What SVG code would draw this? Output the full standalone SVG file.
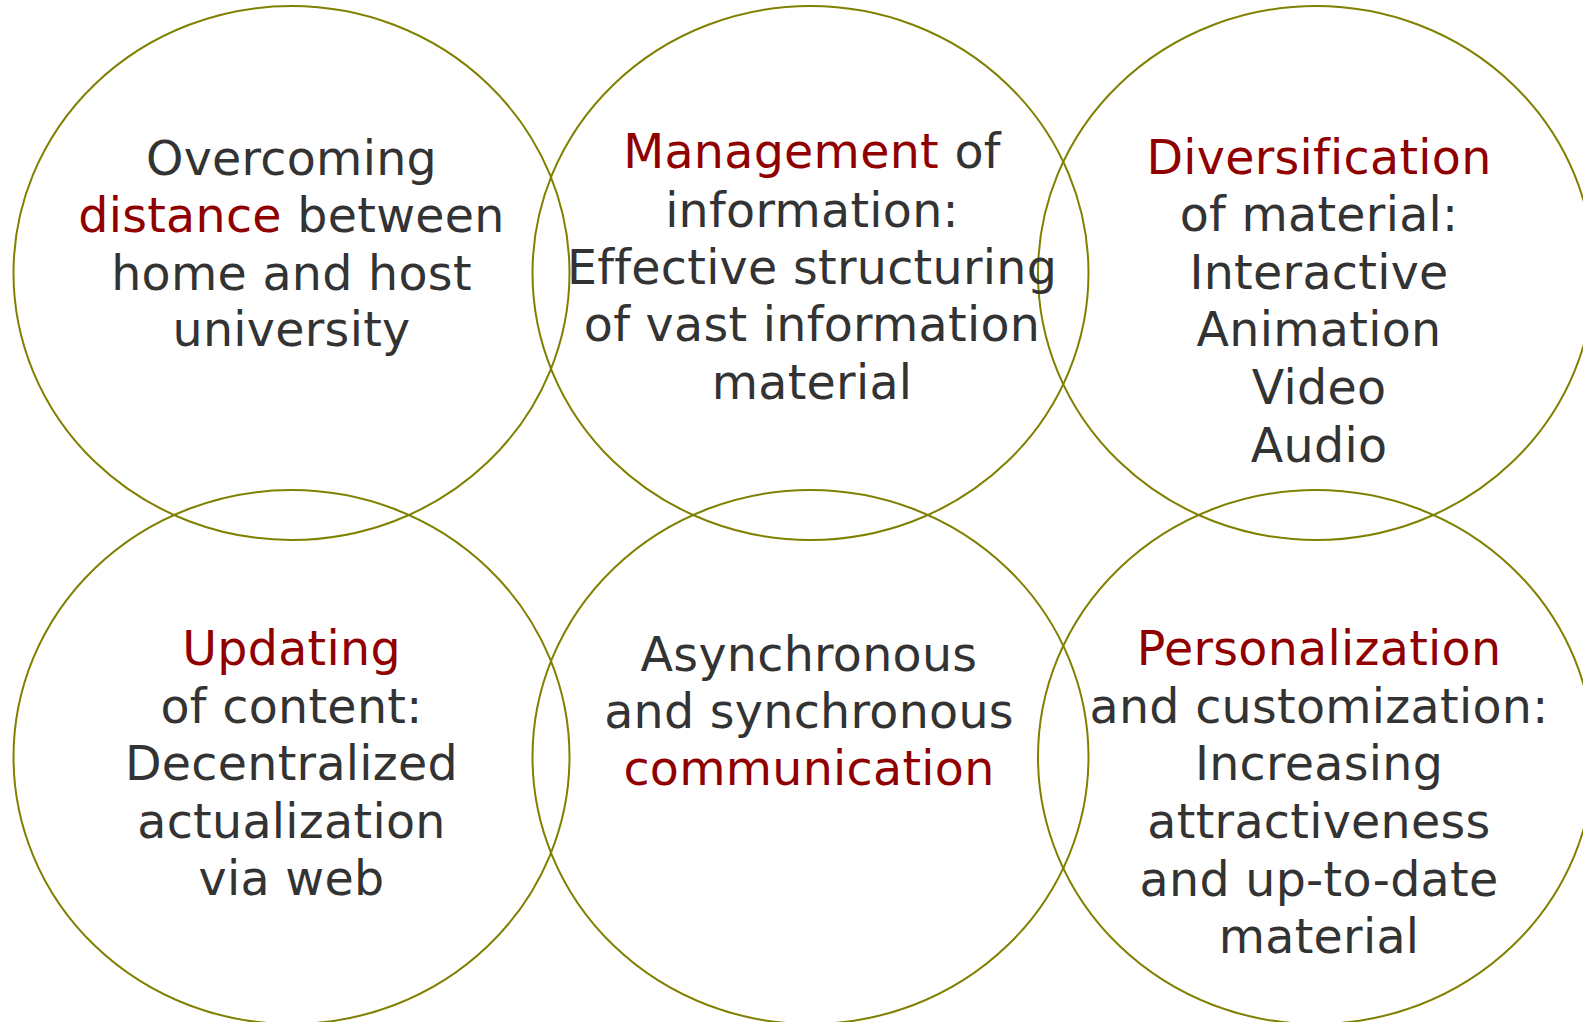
<svg xmlns="http://www.w3.org/2000/svg" width="1583" height="1022" viewBox="0 0 1583 1022">
<style>
.c{fill:none;stroke:#808000;stroke-width:2}
text{font-family:"DejaVu Sans",Verdana,sans-serif;font-size:47.5px;fill:#333333;text-anchor:middle;letter-spacing:0.3px}
.r{fill:#900000}
</style>
<rect width="1583" height="1022" fill="#ffffff"/>
<g id="circles">
<ellipse id="c1" class="c" cx="291.5" cy="273" rx="278" ry="267"/>
<ellipse id="c2" class="c" cx="810.5" cy="273" rx="278" ry="267"/>
<ellipse id="c3" class="c" cx="1316" cy="273" rx="278" ry="267"/>
<ellipse id="c4" class="c" cx="291.5" cy="757" rx="278" ry="267"/>
<ellipse id="c5" class="c" cx="810.5" cy="757" rx="278" ry="267"/>
<ellipse id="c6" class="c" cx="1316" cy="757" rx="278" ry="267"/>
</g>
<g id="connectors"/>
<g id="node1">
<text x="291.5" y="175">Overcoming</text>
<text x="291.5" y="232"><tspan class="r">distance</tspan> between</text>
<text x="291.5" y="290">home and host</text>
<text x="291.5" y="346">university</text>
</g>
<g id="node2">
<text x="812" y="168"><tspan class="r">Management</tspan> of</text>
<text x="812" y="227">information:</text>
<text x="812" y="284">Effective structuring</text>
<text x="812" y="341">of vast information</text>
<text x="812" y="399">material</text>
</g>
<g id="node3">
<text x="1319" y="174" class="r">Diversification</text>
<text x="1319" y="231">of material:</text>
<text x="1319" y="289">Interactive</text>
<text x="1319" y="346">Animation</text>
<text x="1319" y="404">Video</text>
<text x="1319" y="462">Audio</text>
</g>
<g id="node4">
<text x="291.5" y="665" class="r">Updating</text>
<text x="291.5" y="723">of content:</text>
<text x="291.5" y="780">Decentralized</text>
<text x="291.5" y="838">actualization</text>
<text x="291.5" y="895">via web</text>
</g>
<g id="node5">
<text x="809" y="671">Asynchronous</text>
<text x="809" y="728">and synchronous</text>
<text x="809" y="785" class="r">communication</text>
</g>
<g id="node6">
<text x="1319" y="665" class="r">Personalization</text>
<text x="1319" y="723">and customization:</text>
<text x="1319" y="780">Increasing</text>
<text x="1319" y="838">attractiveness</text>
<text x="1319" y="896">and up-to-date</text>
<text x="1319" y="953">material</text>
</g>
</svg>
